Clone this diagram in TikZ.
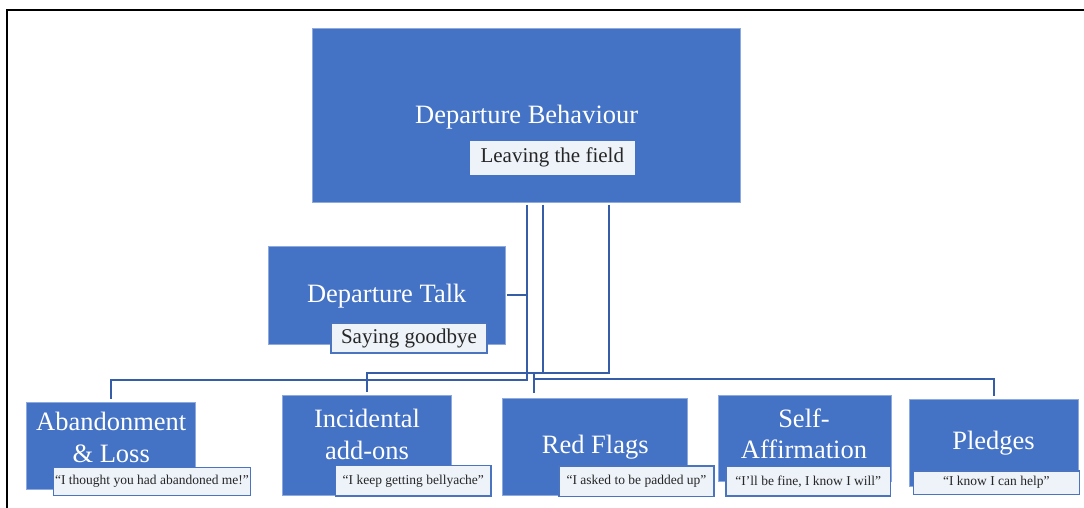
\documentclass[tikz,border=0pt]{standalone}
\usepackage{fontspec}
\setmainfont{Liberation Serif}
\definecolor{mainblue}{HTML}{4472C4}
\definecolor{edgeblue}{HTML}{8EA9DB}
\definecolor{connblue}{HTML}{355DA8}
\definecolor{paleblue}{HTML}{EEF3FA}
\definecolor{qborder}{HTML}{4A74C0}
\definecolor{darktext}{HTML}{262626}
\begin{document}
\begin{tikzpicture}[x=1pt,y=-1pt,
  bigbox/.style={fill=mainblue, draw=edgeblue, line width=0.6pt, inner sep=0pt},
  title/.style={text=white, font=\fontsize{26.5}{31.5}\selectfont, align=center, inner sep=0pt, yshift=-1.5pt},
  subbox/.style={fill=paleblue, draw=qborder, line width=1.5pt, inner sep=0pt, text=darktext, font=\fontsize{21}{25}\selectfont},
  quotebox/.style={fill=paleblue, draw=qborder, line width=1.5pt, inner sep=0pt, text=darktext, font=\fontsize{13.5}{16}\selectfont},
  conn/.style={draw=connblue, line width=2pt}]
\useasboundingbox (0,0) rectangle (1084,508);
\fill[white] (0,0) rectangle (1084,508);
% frame
\draw[black, line width=2.5pt] (7,508) -- (7,10) -- (1084,10);

% top
\node[bigbox, minimum width=428pt, minimum height=174pt] (DB) at (526.7,115.3) {};
\node[title] (DBt) at (526.7,116) {Departure Behaviour};
\node[subbox, draw=none, minimum width=164.7pt, minimum height=33.7pt] (LF) at (552.3,157.8) {\raisebox{-1.5pt}{Leaving the field}};

% departure talk
\node[bigbox, minimum width=237pt, minimum height=98pt] (DT) at (386.5,295) {};
\node[title] (DTt) at (386.7,295) {Departure Talk};
\node[subbox, minimum width=156pt, minimum height=30pt] (SG) at (409,338) {\raisebox{-1pt}{Saying goodbye}};

% bottom row
\node[bigbox, minimum width=169pt, minimum height=86.7pt] (AL) at (111.2,445.7) {};
\node[title] (ALt) at (111.2,436) {Abandonment\\\& Loss};
\node[quotebox, minimum width=197.4pt, minimum height=28pt] (ALq) at (152,481.3) {“I thought you had abandoned me!”};

\node[bigbox, minimum width=169.4pt, minimum height=100pt] (IA) at (367,445) {};
\node[title] (IAt) at (367,432.8) {Incidental\\add-ons};
\node[quotebox, minimum width=155.3pt, minimum height=30.3pt] (IAq) at (413.3,480.8) {“I keep getting bellyache”};

\node[bigbox, minimum width=185pt, minimum height=96.7pt] (RF) at (595.2,446.7) {};
\node[title] (RFt) at (595.2,446) {Red Flags};
\node[quotebox, minimum width=155pt, minimum height=30.7pt] (RFq) at (636.5,481.3) {“I asked to be padded up”};

\node[bigbox, minimum width=172.7pt, minimum height=86.7pt] (SA) at (804.7,438.3) {};
\node[title] (SAt) at (804,432.5) {Self-\\Affirmation};
\node[quotebox, minimum width=164.7pt, minimum height=29.3pt] (SAq) at (808.3,481.3) {“I'll be fine, I know I will”};

\node[bigbox, minimum width=169pt, minimum height=86.7pt] (PL) at (993.8,442.7) {};
\node[title] (PLt) at (993.5,441.7) {Pledges};
\node[quotebox, minimum width=166pt, minimum height=23.3pt] (PLq) at (996.3,482.7) {“I know I can help”};

% levels
\coordinate (yA) at (0,380);
\coordinate (yB) at (0,372.5);
\coordinate (yC) at (0,378.5);
\coordinate (xR) at (534,0);

% connectors
\draw[conn, shorten <=2pt, shorten >=3pt] (DB.south) |- (AL.north |- yA) -- (AL.north);
\draw[conn, shorten <=2pt] (DT.east) -- (DT.east -| DB.south);
\draw[conn, shorten <=2pt, shorten >=3pt] ([xshift=16.3pt]DB.south) |- (IA.north |- yB) -- (IA.north);
\draw[conn, shorten <=2pt, shorten >=5pt] ([xshift=82.3pt]DB.south) |- (xR |- yB) -- (xR |- RF.north);
\draw[conn, shorten >=2.6pt] (xR |- yC) -| (PL.north);
\end{tikzpicture}
\end{document}
